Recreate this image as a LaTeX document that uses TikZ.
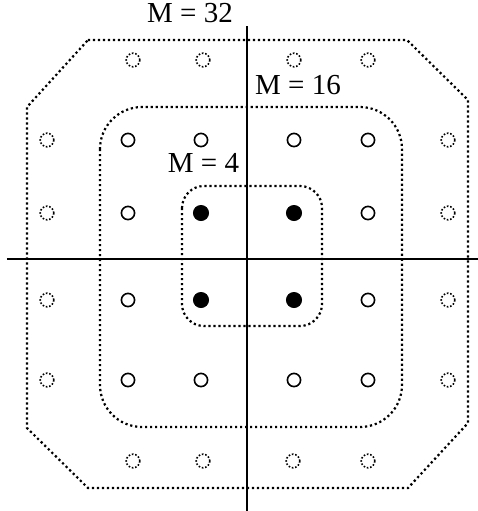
\documentclass[tikz,border=0pt]{standalone}
\usepackage{fontspec}
\setmainfont{Liberation Serif}
\begin{document}
\begin{tikzpicture}[
  x=0.5pt, y=-0.5pt,
  signal/.style={circle, draw=black, fill=black, minimum size=7.6pt, inner sep=0pt},
  ring/.style={circle, draw=black, line width=0.8pt, minimum size=6.6pt, inner sep=0pt},
  ghost/.style={circle, draw=black, line width=0.8pt, dash pattern=on 0.8pt off 0.9pt, minimum size=6.8pt, inner sep=0pt},
  axis/.style={line width=1pt},
  bound/.style={line width=1.1pt, dash pattern=on 1.1pt off 1.4pt},
  lbl/.style={font=\fontsize{14.5}{17}\selectfont, inner sep=0pt}
]
\useasboundingbox (0,0) rectangle (478,511);

% === Axes ===
\coordinate (XL) at (7,259);
\coordinate (XR) at (478,259);
\coordinate (YT) at (247,26);
\coordinate (YB) at (247,511);
\draw[axis] (XL) -- (XR);
\draw[axis] (YT) -- (YB);

% === Boundaries ===
% M = 32: octagon
\draw[bound] (88,40) -- (407,40) -- (468,100) -- (468,423) -- (408,488)
  -- (88,488) -- (27,428) -- (27,107) -- cycle;
% M = 16
\draw[bound, rounded corners=21pt] (100,107) rectangle (402,427);
% M = 4
\draw[bound, rounded corners=11pt] (182,186) rectangle (322,326);

% === M = 4: inner points ===
\node[signal] (S11) at (201,213) {};
\node[signal] (S12) at (294,213) {};
\node[signal] (S21) at (201,300) {};
\node[signal] (S22) at (294,300) {};

% === M = 16: ring points ===
\node[ring] (R1) at (128,140) {};
\node[ring] (R2) at (201,140) {};
\node[ring] (R3) at (294,140) {};
\node[ring] (R4) at (368,140) {};
\node[ring] (R5) at (128,213) {};
\node[ring] (R6) at (368,213) {};
\node[ring] (R7) at (128,300) {};
\node[ring] (R8) at (368,300) {};
\node[ring] (R9) at (128,380) {};
\node[ring] (R10) at (201,380) {};
\node[ring] (R11) at (294,380) {};
\node[ring] (R12) at (368,380) {};

% === M = 32: outer points ===
\node[ghost] (G1) at (133,60) {};
\node[ghost] (G2) at (203,60) {};
\node[ghost] (G3) at (294,60) {};
\node[ghost] (G4) at (368,60) {};
\node[ghost] (G5) at (47,140) {};
\node[ghost] (G6) at (448,140) {};
\node[ghost] (G7) at (47,213) {};
\node[ghost] (G8) at (448,213) {};
\node[ghost] (G9) at (47,300) {};
\node[ghost] (G10) at (448,300) {};
\node[ghost] (G11) at (47,380) {};
\node[ghost] (G12) at (448,380) {};
\node[ghost] (G13) at (133,461) {};
\node[ghost] (G14) at (203,461) {};
\node[ghost] (G15) at (293,461) {};
\node[ghost] (G16) at (368,461) {};

% Labels
\node[lbl] (L32) at (190,13) {M = 32};
\node[lbl] (L16) at (298,85) {M = 16};
\node[lbl] (L4) at (203.5,163) {M = 4};

\end{tikzpicture}
\end{document}
